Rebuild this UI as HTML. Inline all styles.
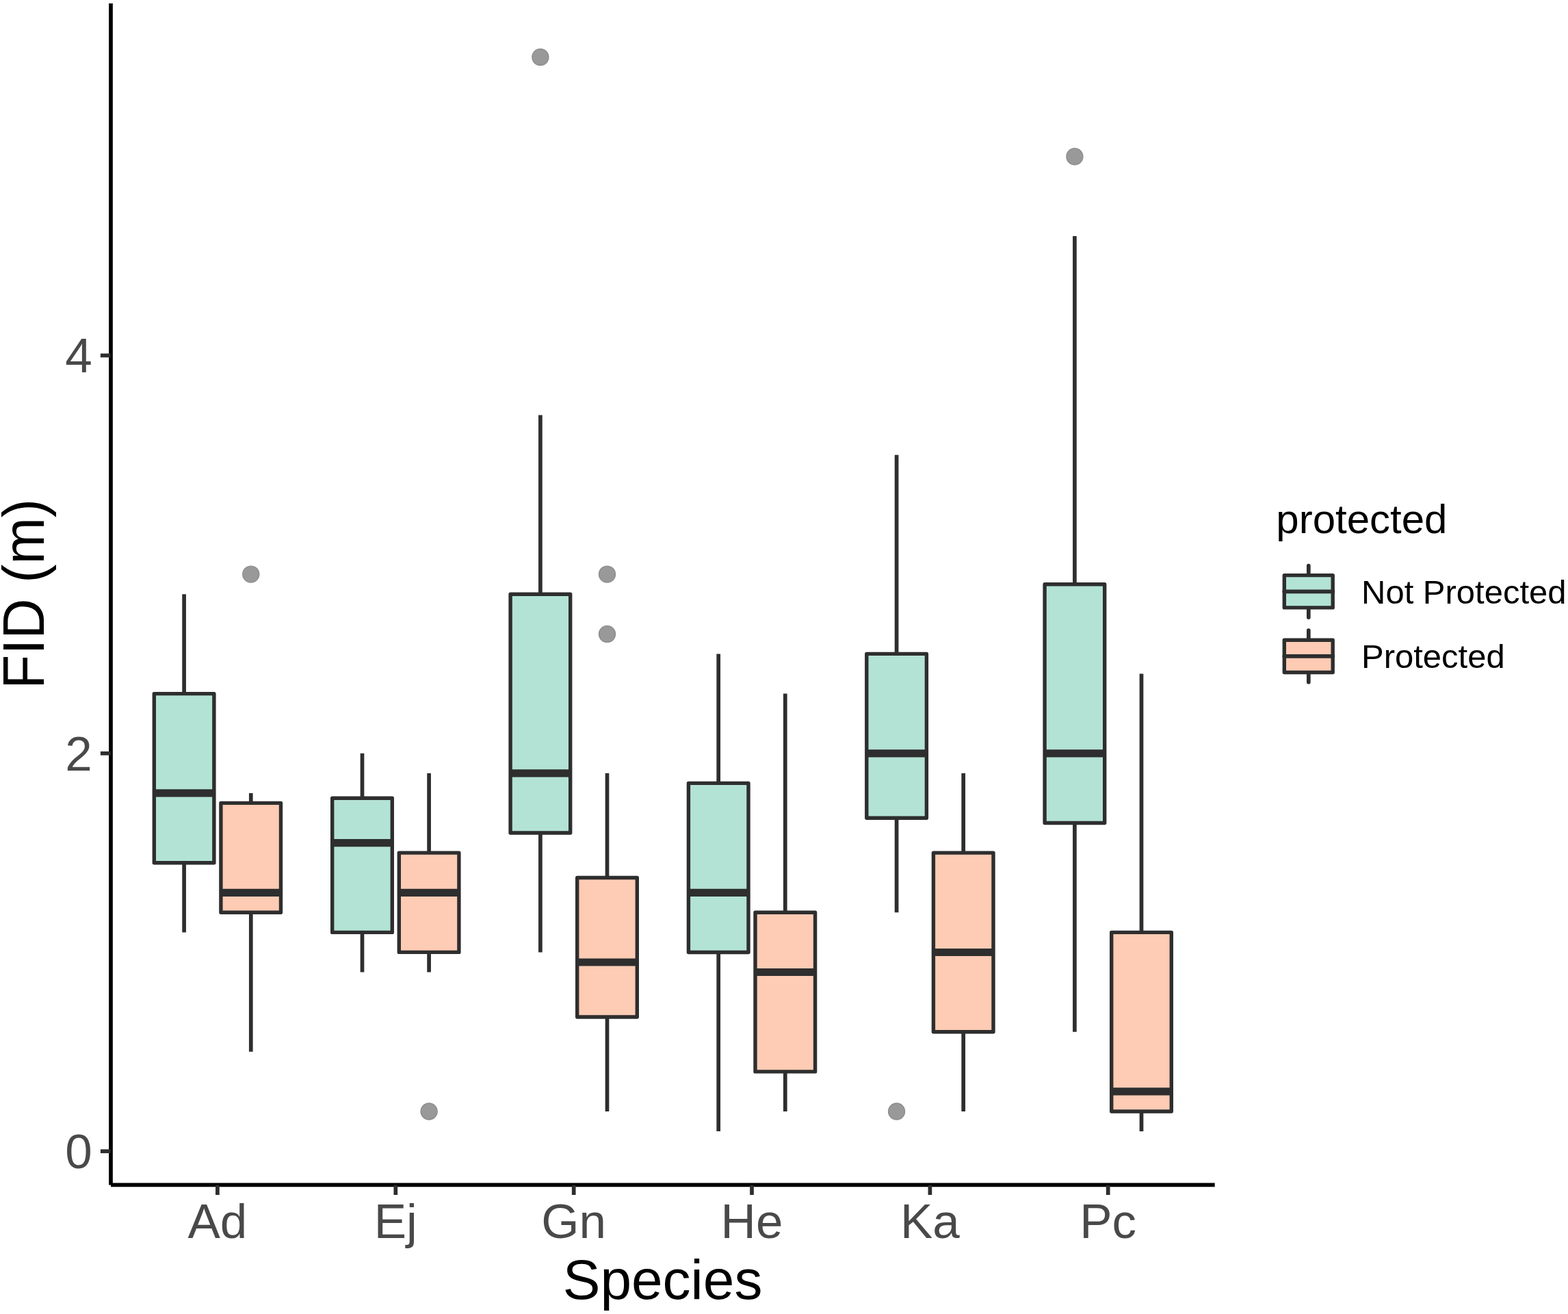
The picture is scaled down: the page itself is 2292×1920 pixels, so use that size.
<!DOCTYPE html>
<html lang="en">
<head>
<meta charset="utf-8">
<title>FID (m) by Species and protection status</title>
<style>
html,body{margin:0;padding:0;background:#ffffff;}
body{width:2292px;height:1920px;overflow:hidden;}
svg{display:block;}
text{font-family:"Liberation Sans",sans-serif;}
.tick{font-size:71px;fill:#494949;}
.title{font-size:82px;fill:#000000;}
.ltitle{font-size:60px;fill:#000000;}
.llabel{font-size:49px;fill:#000000;}
.box{stroke:#2e2e2e;stroke-width:5.4;stroke-linejoin:round;}
.wh{stroke:#2e2e2e;stroke-width:5.7;fill:none;}
.med{stroke:#2e2e2e;stroke-width:11.2;fill:none;}
.out{fill:#999999;stroke:#8f8f8f;stroke-width:1.6;}
.axis{stroke:#000000;stroke-width:5.7;fill:none;}
.tk{stroke:#2e2e2e;stroke-width:5.7;fill:none;}
</style>
</head>
<body>
<svg width="2292" height="1920" viewBox="0 0 2292 1920">
<rect x="0" y="0" width="2292" height="1920" fill="#ffffff"/>
<g id="boxes">
<line class="wh" x1="269.1" y1="868.2" x2="269.1" y2="1013.6"/>
<line class="wh" x1="269.1" y1="1260.6" x2="269.1" y2="1362.4"/>
<rect class="box" x="225.3" y="1013.6" width="87.6" height="247.1" fill="#b3e3d5"/>
<line class="med" x1="225.3" y1="1158.9" x2="312.9" y2="1158.9"/>
<circle class="out" cx="366.8" cy="839.1" r="11.9"/>
<line class="wh" x1="366.8" y1="1158.9" x2="366.8" y2="1173.4"/>
<line class="wh" x1="366.8" y1="1333.3" x2="366.8" y2="1536.8"/>
<rect class="box" x="322.9" y="1173.4" width="87.6" height="159.9" fill="#fecbb4"/>
<line class="med" x1="322.9" y1="1304.3" x2="410.6" y2="1304.3"/>
<line class="wh" x1="529.5" y1="1100.8" x2="529.5" y2="1166.2"/>
<line class="wh" x1="529.5" y1="1362.4" x2="529.5" y2="1420.5"/>
<rect class="box" x="485.7" y="1166.2" width="87.6" height="196.2" fill="#b3e3d5"/>
<line class="med" x1="485.7" y1="1231.6" x2="573.3" y2="1231.6"/>
<circle class="out" cx="627.1" cy="1624.0" r="11.9"/>
<line class="wh" x1="627.1" y1="1129.8" x2="627.1" y2="1246.1"/>
<line class="wh" x1="627.1" y1="1391.5" x2="627.1" y2="1420.5"/>
<rect class="box" x="583.3" y="1246.1" width="87.6" height="145.3" fill="#fecbb4"/>
<line class="med" x1="583.3" y1="1304.3" x2="670.9" y2="1304.3"/>
<circle class="out" cx="789.9" cy="83.4" r="11.9"/>
<line class="wh" x1="789.9" y1="606.6" x2="789.9" y2="868.2"/>
<line class="wh" x1="789.9" y1="1217.0" x2="789.9" y2="1391.5"/>
<rect class="box" x="746.1" y="868.2" width="87.6" height="348.8" fill="#b3e3d5"/>
<line class="med" x1="746.1" y1="1129.8" x2="833.7" y2="1129.8"/>
<circle class="out" cx="887.5" cy="839.1" r="11.9"/>
<circle class="out" cx="887.5" cy="926.4" r="11.9"/>
<line class="wh" x1="887.5" y1="1129.8" x2="887.5" y2="1282.5"/>
<line class="wh" x1="887.5" y1="1485.9" x2="887.5" y2="1624.0"/>
<rect class="box" x="843.7" y="1282.5" width="87.6" height="203.5" fill="#fecbb4"/>
<line class="med" x1="843.7" y1="1406.0" x2="931.2" y2="1406.0"/>
<line class="wh" x1="1050.2" y1="955.4" x2="1050.2" y2="1144.4"/>
<line class="wh" x1="1050.2" y1="1391.5" x2="1050.2" y2="1653.1"/>
<rect class="box" x="1006.4" y="1144.4" width="87.6" height="247.1" fill="#b3e3d5"/>
<line class="med" x1="1006.4" y1="1304.3" x2="1094.0" y2="1304.3"/>
<line class="wh" x1="1147.8" y1="1013.6" x2="1147.8" y2="1333.3"/>
<line class="wh" x1="1147.8" y1="1565.9" x2="1147.8" y2="1624.0"/>
<rect class="box" x="1104.0" y="1333.3" width="87.6" height="232.6" fill="#fecbb4"/>
<line class="med" x1="1104.0" y1="1420.5" x2="1191.6" y2="1420.5"/>
<circle class="out" cx="1310.6" cy="1624.0" r="11.9"/>
<line class="wh" x1="1310.6" y1="664.7" x2="1310.6" y2="955.4"/>
<line class="wh" x1="1310.6" y1="1195.2" x2="1310.6" y2="1333.3"/>
<rect class="box" x="1266.8" y="955.4" width="87.6" height="239.8" fill="#b3e3d5"/>
<line class="med" x1="1266.8" y1="1100.8" x2="1354.4" y2="1100.8"/>
<line class="wh" x1="1408.2" y1="1129.8" x2="1408.2" y2="1246.1"/>
<line class="wh" x1="1408.2" y1="1507.7" x2="1408.2" y2="1624.0"/>
<rect class="box" x="1364.4" y="1246.1" width="87.6" height="261.6" fill="#fecbb4"/>
<line class="med" x1="1364.4" y1="1391.5" x2="1452.0" y2="1391.5"/>
<circle class="out" cx="1570.9" cy="228.7" r="11.9"/>
<line class="wh" x1="1570.9" y1="345.0" x2="1570.9" y2="853.7"/>
<line class="wh" x1="1570.9" y1="1202.5" x2="1570.9" y2="1507.7"/>
<rect class="box" x="1527.1" y="853.7" width="87.6" height="348.8" fill="#b3e3d5"/>
<line class="med" x1="1527.1" y1="1100.8" x2="1614.7" y2="1100.8"/>
<line class="wh" x1="1668.5" y1="984.5" x2="1668.5" y2="1362.4"/>
<line class="wh" x1="1668.5" y1="1624.0" x2="1668.5" y2="1653.1"/>
<rect class="box" x="1624.7" y="1362.4" width="87.6" height="261.6" fill="#fecbb4"/>
<line class="med" x1="1624.7" y1="1594.9" x2="1712.3" y2="1594.9"/>
</g>
<g id="axes">
<line class="axis" x1="162.0" y1="5.0" x2="162.0" y2="1731.4"/>
<line class="axis" x1="162.0" y1="1731.4" x2="1775.7" y2="1731.4"/>
<line class="tk" x1="146.9" y1="1682.2" x2="161.5" y2="1682.2"/>
<line class="tk" x1="146.9" y1="1100.8" x2="161.5" y2="1100.8"/>
<line class="tk" x1="146.9" y1="519.4" x2="161.5" y2="519.4"/>
<line class="tk" x1="317.9" y1="1731.9" x2="317.9" y2="1746.0"/>
<line class="tk" x1="578.3" y1="1731.9" x2="578.3" y2="1746.0"/>
<line class="tk" x1="838.7" y1="1731.9" x2="838.7" y2="1746.0"/>
<line class="tk" x1="1099.0" y1="1731.9" x2="1099.0" y2="1746.0"/>
<line class="tk" x1="1359.4" y1="1731.9" x2="1359.4" y2="1746.0"/>
<line class="tk" x1="1619.7" y1="1731.9" x2="1619.7" y2="1746.0"/>
</g>
<g id="ticklabels">
<text class="tick" x="134.7" y="1707.2" text-anchor="end">0</text>
<text class="tick" x="134.7" y="1125.8" text-anchor="end">2</text>
<text class="tick" x="134.7" y="544.4" text-anchor="end">4</text>
<text class="tick" x="317.9" y="1808.7" text-anchor="middle">Ad</text>
<text class="tick" x="578.3" y="1808.7" text-anchor="middle">Ej</text>
<text class="tick" x="838.7" y="1808.7" text-anchor="middle">Gn</text>
<text class="tick" x="1099.0" y="1808.7" text-anchor="middle">He</text>
<text class="tick" x="1359.4" y="1808.7" text-anchor="middle">Ka</text>
<text class="tick" x="1619.7" y="1808.7" text-anchor="middle">Pc</text>
</g>
<text class="title" x="968.6" y="1898" text-anchor="middle">Species</text>
<text class="title" transform="translate(64,867.8) rotate(-90) scale(1,1.03)" text-anchor="middle">FID (m)</text>
<g id="legend">
<text class="ltitle" x="1865.3" y="779.3">protected</text>
<line class="wh" stroke-linecap="round" x1="1912.8" y1="826.5" x2="1912.8" y2="840.6"/>
<line class="wh" stroke-linecap="round" x1="1912.8" y1="887.9" x2="1912.8" y2="902.1"/>
<rect class="box" x="1877.3" y="840.6" width="70.9" height="47.3" fill="#b3e3d5"/>
<line class="wh" stroke-linecap="round" x1="1877.3" y1="864.3" x2="1948.3" y2="864.3"/>
<text class="llabel" x="1990" y="881.8">Not Protected</text>
<line class="wh" stroke-linecap="round" x1="1912.8" y1="921.1" x2="1912.8" y2="935.2"/>
<line class="wh" stroke-linecap="round" x1="1912.8" y1="982.5" x2="1912.8" y2="996.7"/>
<rect class="box" x="1877.3" y="935.2" width="70.9" height="47.3" fill="#fecbb4"/>
<line class="wh" stroke-linecap="round" x1="1877.3" y1="958.9" x2="1948.3" y2="958.9"/>
<text class="llabel" x="1990" y="976.4">Protected</text>
</g>
</svg>
</body>
</html>
